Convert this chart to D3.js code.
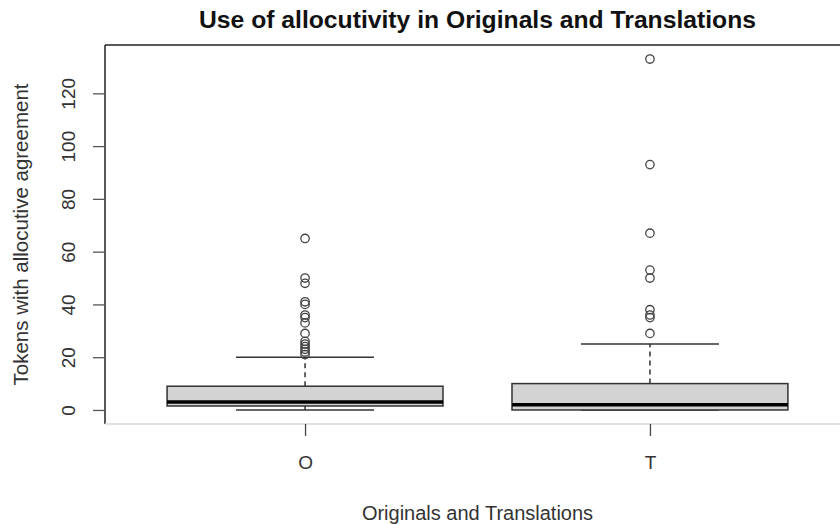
<!DOCTYPE html>
<html>
<head>
<meta charset="utf-8">
<script src="https://cdn.jsdelivr.net/npm/d3@7"></script>
<style>
  html, body { margin: 0; padding: 0; background: #fff; }
  svg { display: block; font-family: "Liberation Sans", Arial, sans-serif; }
</style>
</head>
<body>
<svg id="chart" width="840" height="524"></svg>
<script>
// ---- data ----
const categories = ["O", "T"];
const q1 = [1.5, 0];
const medians = [3, 2];
const q3 = [9, 10];
const whiskerLow = [0, 0];
const whiskerHigh = [20, 25];
const outliersO = [65, 50, 48, 41, 40, 36, 35, 33, 29, 26, 25, 24, 23, 22, 21];
const outliersT = [133, 93, 67, 53, 50, 38, 36, 35, 29];
const outliers = [outliersO, outliersT];
const yTicks = [0, 20, 40, 60, 80, 100, 120];

const title = "Use of allocutivity in Originals and Translations";
const xTitle = "Originals and Translations";
const yTitle = "Tokens with allocutive agreement";

// ---- layout ----
const svg = d3.select("#chart");
const plotLeft = 105, plotRight = 850, plotTop = 45, plotBottom = 424;

const allVals = [].concat(...outliers, whiskerLow, whiskerHigh);
const yMin = d3.min(allVals), yMax = d3.max(allVals);
const pad = (yMax - yMin) * 0.04;
const y = d3.scaleLinear().domain([yMin - pad, yMax + pad]).range([plotBottom, plotTop]);
const x = d3.scaleLinear().domain([0.42, categories.length + 0.58]).range([plotLeft, plotRight]);
const unit = x(2) - x(1);
const boxW = unit * 0.8;
const capW = boxW * 0.5;

const g = svg.append("g");

// boxes
categories.forEach((c, i) => {
  const cx = x(i + 1);
  // whiskers (dashed)
  g.append("line").attr("x1", cx).attr("x2", cx)
    .attr("y1", y(q3[i])).attr("y2", y(whiskerHigh[i]))
    .attr("stroke", "#222").attr("stroke-width", 1.4).attr("stroke-dasharray", "5,4");
  g.append("line").attr("x1", cx).attr("x2", cx)
    .attr("y1", y(q1[i])).attr("y2", y(whiskerLow[i]))
    .attr("stroke", "#222").attr("stroke-width", 1.4).attr("stroke-dasharray", "5,4");
  // caps
  [whiskerLow[i], whiskerHigh[i]].forEach(v => {
    g.append("line").attr("x1", cx - capW / 2).attr("x2", cx + capW / 2)
      .attr("y1", y(v)).attr("y2", y(v))
      .attr("stroke", "#333").attr("stroke-width", 1.4);
  });
  // box
  g.append("rect").attr("x", cx - boxW / 2).attr("width", boxW)
    .attr("y", y(q3[i])).attr("height", y(q1[i]) - y(q3[i]))
    .attr("fill", "#d3d3d3").attr("stroke", "#333").attr("stroke-width", 1.5);
  // median
  g.append("line").attr("x1", cx - boxW / 2).attr("x2", cx + boxW / 2)
    .attr("y1", y(medians[i])).attr("y2", y(medians[i]))
    .attr("stroke", "#000").attr("stroke-width", 3.5);
  // outliers
  g.selectAll(null).data(outliers[i]).enter().append("circle")
    .attr("cx", cx).attr("cy", d => y(d)).attr("r", 4.2)
    .attr("fill", "none").attr("stroke", "#444").attr("stroke-width", 1.3);
});

// frame
g.append("line").attr("x1", plotLeft).attr("x2", plotRight).attr("y1", plotTop).attr("y2", plotTop)
  .attr("stroke", "#222").attr("stroke-width", 1.5);
g.append("line").attr("x1", plotLeft).attr("x2", plotLeft).attr("y1", plotTop).attr("y2", plotBottom)
  .attr("stroke", "#222").attr("stroke-width", 1.5);
g.append("line").attr("x1", plotLeft).attr("x2", plotRight).attr("y1", plotBottom).attr("y2", plotBottom)
  .attr("stroke", "#d9d9d9").attr("stroke-width", 1.5);

// y axis
const yAxis = d3.axisLeft(y).tickValues(yTicks).tickSize(12).tickPadding(0).tickFormat(d3.format("d"));
const ya = svg.append("g").attr("transform", `translate(${plotLeft},0)`).call(yAxis);
ya.select(".domain").remove();
ya.selectAll(".tick line").attr("stroke", "#555").attr("stroke-width", 1.3);
ya.selectAll(".tick text")
  .attr("x", null)
  .attr("text-anchor", "middle")
  .attr("font-size", 19).attr("fill", "#333")
  .attr("transform", "translate(-37,0) rotate(-90)")
  .attr("dy", "0.35em");

// x axis
const xAxis = d3.axisBottom(x).tickValues(categories.map((c, i) => i + 1))
  .tickFormat((d) => categories[d - 1]).tickSize(12).tickPadding(20);
const xa = svg.append("g").attr("transform", `translate(0,${plotBottom})`).call(xAxis);
xa.select(".domain").remove();
xa.selectAll(".tick line").attr("stroke", "#444").attr("stroke-width", 1.3);
xa.selectAll(".tick text").attr("font-size", 19).attr("fill", "#333");

// titles
const cxPlot = (plotLeft + plotRight) / 2;
svg.append("text").attr("x", cxPlot).attr("y", 28).attr("text-anchor", "middle")
  .attr("font-size", 24.7).attr("font-weight", "bold").attr("fill", "#111").text(title);
svg.append("text").attr("x", cxPlot).attr("y", 520).attr("text-anchor", "middle")
  .attr("font-size", 20).attr("fill", "#333").text(xTitle);
svg.append("text").attr("transform", `translate(28,${(plotTop + plotBottom) / 2}) rotate(-90)`)
  .attr("text-anchor", "middle").attr("font-size", 20.5).attr("fill", "#333").text(yTitle);
</script>
</body>
</html>
